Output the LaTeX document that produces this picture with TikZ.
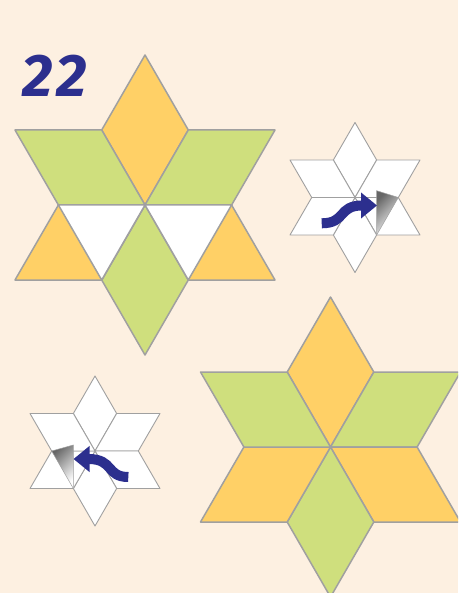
\documentclass[tikz,border=0pt]{standalone}
\usepackage{fontspec}
\usepackage{xcolor}
\usepackage{tikz}
\usetikzlibrary{arrows.meta, calc}
\newfontfamily\numfont{Fira Sans}[LetterSpace=6]
\definecolor{bgcream}{RGB}{253,240,225}
\definecolor{petalyel}{RGB}{255,208,102}
\definecolor{petalgrn}{RGB}{207,223,125}
\definecolor{edgegray}{RGB}{160,160,160}
\definecolor{inkblue}{RGB}{44,47,142}
%% six-rhombus star, pieces: top, upper right, lower right, bottom, lower left, upper left
\tikzset{
  pics/rhstar/.style n args={6}{code={
    \filldraw[fill=#1] (0,0) -- (-43.3,-75) -- (0,-150) -- (43.3,-75) -- cycle;
    \filldraw[fill=#2] (0,0) -- (43.3,-75) -- (130,-75) -- (86.6,0) -- cycle;
    \filldraw[fill=#3] (0,0) -- (86.6,0) -- (130,75) -- (43.3,75) -- cycle;
    \filldraw[fill=#4] (0,0) -- (43.3,75) -- (0,150) -- (-43.3,75) -- cycle;
    \filldraw[fill=#5] (0,0) -- (-43.3,75) -- (-130,75) -- (-86.6,0) -- cycle;
    \filldraw[fill=#6] (0,0) -- (-86.6,0) -- (-130,-75) -- (-43.3,-75) -- cycle;
  }}
}
\begin{document}
\begin{tikzpicture}[x=1pt, y=-1pt,
  big/.style={draw=edgegray, line width=1.5pt, line join=round},
  small/.style={draw=edgegray, line width=0.9pt, line join=round, scale=0.5},
  flap/.style={draw=edgegray, line width=0.5pt, top color=black!60, bottom color=white,
               shading angle=45},
  turnarr/.style={draw=inkblue, line width=10pt, -{Triangle[length=16pt, width=25pt]}}
]
%% page
\fill[bgcream] (0,0) rectangle (458,593);
\clip (0,0) rectangle (458,593);
%% centres of the four stars
\coordinate (s_one)   at (145, 205);
\coordinate (s_two)   at (355, 197.5);
\coordinate (s_three) at (330.5, 447);
\coordinate (s_four)  at (95, 451);
%% number
\node[font=\numfont\bfseries\itshape\fontsize{60}{60}\selectfont, text=inkblue,
      anchor=base west, inner sep=0pt] (num) at (22.5, 96.7) {22};
%% star 1: triangles below
\pic[big] at (s_one) {rhstar={petalyel}{petalgrn}{petalyel}{petalgrn}{petalyel}{petalgrn}};
\filldraw[big, fill=white] (s_one) -- ++(-86.6,0) -- ++(43.3,75) -- cycle;
\filldraw[big, fill=white] (s_one) -- ++(86.6,0) -- ++(-43.3,75) -- cycle;
%% star 3
\pic[big] at (s_three) {rhstar={petalyel}{petalgrn}{petalyel}{petalgrn}{petalyel}{petalgrn}};
%% small stars with a turned piece
\pic[small] at (s_two)  {rhstar={white}{white}{white}{white}{white}{white}};
\pic[small] at (s_four) {rhstar={white}{white}{white}{white}{white}{white}};
\shade[flap] ($(s_two)+(21.65,-6.8)$) -- ($(s_two)+(43.3,0)$) -- ($(s_two)+(21.65,37.5)$) -- cycle;
\shade[flap] ($(s_four)+(-21.65,-6)$) -- ($(s_four)+(-43.3,0)$) -- ($(s_four)+(-21.65,37.5)$) -- cycle;
%% arrows
\coordinate (a_tail) at (321.7, 223.3);
\coordinate (a_tip)  at (377, 205.5);
\draw[turnarr] (a_tail) .. controls (346,223.3) and (338,205.5) .. (a_tip);
\coordinate (b_tail) at (128.3, 477);
\coordinate (b_tip)  at (73.5, 459);
\draw[turnarr] (b_tail) .. controls (106,477) and (114,459) .. (b_tip);
\end{tikzpicture}
\end{document}
